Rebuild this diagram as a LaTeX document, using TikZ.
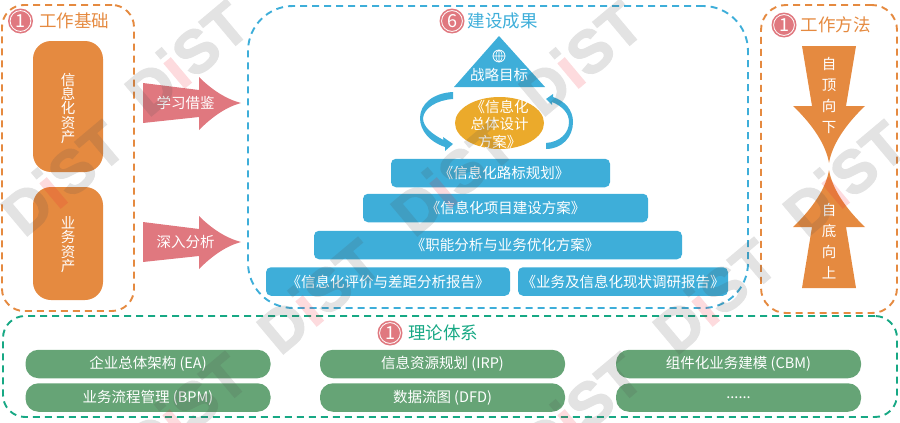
\documentclass[tikz,border=0pt]{standalone}
\usepackage{fontspec}
\usetikzlibrary{shapes.geometric}
\setmainfont{Noto Sans CJK SC}
\newfontfamily\wmfont[FakeBold=2.5]{Liberation Sans Bold}
\definecolor{dorange}{HTML}{E58A40}
\definecolor{dblue}{HTML}{3EAED9}
\definecolor{dgreen}{HTML}{17A884}
\definecolor{dpink}{HTML}{E0787F}
\definecolor{dgold}{HTML}{EBAA2B}
\definecolor{dpill}{HTML}{66A476}
\definecolor{wmgray}{HTML}{505050}
\definecolor{wmred}{HTML}{F02030}
\tikzset{
	dashbox/.style = {draw, line width=1.9, dash pattern=on 7 off 5, rectangle, inner sep=0},
	numcircle/.style = {circle, fill=dpink, minimum size=25, inner sep=0, text=white, font=\fontsize{18}{18}\selectfont,
		path picture={\draw[white, line width=.8] (path picture bounding box.center) circle (10.4);}},
	titletext/.style = {font=\fontsize{17.5}{18}\selectfont, inner sep=0},
	assetbox/.style = {fill=dorange, rectangle, rounded corners=18, minimum width=70, inner sep=0},
	planbox/.style = {fill=dblue, rectangle, rounded corners=5, minimum height=28.5, text=white, inner sep=0, font=\fontsize{14.5}{15}\selectfont},
	theorybox/.style = {fill=dpill, rectangle, rounded corners=13, minimum width=245, minimum height=28.5, text=white, inner sep=0, font=\fontsize{14.5}{15}\selectfont},
	whitetext/.style = {text=white, inner sep=0, align=center, font=\fontsize{14.5}{14.3}\selectfont},
	steptext/.style = {text=white, inner sep=0, align=center, font=\fontsize{14.5}{21}\selectfont},
	watermark/.style = {rotate=40, text=wmgray, inner sep=0, font=\wmfont\fontsize{60}{60}\selectfont}
}
\newcommand{\wmtext}{D\rlap{\hspace{.065em}\rule[.62em]{.15em}{.15em}}\textcolor{wmred}{\char"0131}ST}
\begin{document}
\begin{tikzpicture}[x=1pt,y=-1pt]
\useasboundingbox (0,0) rectangle (900,423);

% dashed frames
\node at (68,158)[dashbox,draw=dorange,minimum width=132,minimum height=306,rounded corners=22](basebox){};
\node at (498,157)[dashbox,draw=dblue,minimum width=500,minimum height=302,rounded corners=45](resultbox){};
\node at (829,159)[dashbox,draw=dorange,minimum width=136,minimum height=308,rounded corners=25](methodbox){};
\node at (450,366.5)[dashbox,draw=dgreen,minimum width=894,minimum height=101,rounded corners=22](theorybase){};

% titles
\node at (20.5,21)[numcircle](C1){1};
\node at (74,21)[titletext,text=dorange](T1){工作基础};
\node at (452,21)[numcircle](C2){6};
\node at (502.5,21)[titletext,text=dblue](T2){建设成果};
\node at (784,25)[numcircle](C3){1};
\node at (835.5,25)[titletext,text=dorange](T3){工作方法};
\node at (390,333)[numcircle](C4){1};
\node at (443,333)[titletext,text=dgreen](T4){理论体系};

% left column
\node at (68,106.5)[assetbox,minimum height=131](A1){};
\node at (68,243.5)[assetbox,minimum height=113](A2){};
\node at (68,108.5)[whitetext](A1text){信\\息\\化\\资\\产};
\node at (68,244.5)[whitetext](A2text){业\\务\\资\\产};

\foreach \y/\label/\name in {0/学习借鉴/L1,139/深入分析/L2}
{
	\fill[dpink] (143,83+\y) -- (199,90+\y) -- (199,77+\y) .. controls (212,90+\y) and (226,99+\y) .. (241,103+\y)
		.. controls (226,107+\y) and (212,117+\y) .. (199,130+\y) -- (199,117+\y) -- (143,123+\y) -- cycle;
	\node at (185.5,103+\y)[whitetext](\name){\label};
}

% right column
\fill[dorange] (802,46) -- (856,46) -- (846,106) -- (865,106) .. controls (845,125) and (832,145) .. (829,163)
	.. controls (826,145) and (813,125) .. (793,106) -- (812,106) -- cycle;
\fill[dorange] (802,288) -- (856,288) -- (846,227) -- (865,227) .. controls (845,208) and (832,188) .. (829,170)
	.. controls (826,188) and (813,208) .. (793,227) -- (812,227) -- cycle;
\node at (829,95)[steptext](M1){自\\顶\\向\\下};
\node at (829,241)[steptext](M2){自\\底\\向\\上};

% pyramid
\fill[dblue] (499,36) -- (545,87) -- (454,87) -- cycle;
\node at (499,56)[circle,draw=white,line width=.8,minimum size=12,inner sep=0,
	path picture={\draw[white,line width=.6] (path picture bounding box.west) -- (path picture bounding box.east)
		(path picture bounding box.north) -- (path picture bounding box.south)
		(path picture bounding box.center) ellipse (3 and 6);}](globe){};
\node at (499,74.5)[whitetext](goal){战略目标};
\node at (499.5,123)[ellipse,fill=dgold,minimum width=89,minimum height=52,inner sep=0](plan){};
\node at (499.5,124)[steptext,font=\fontsize{14.5}{17.5}\selectfont](plantext){《信息化\\总体设计\\方案》};

% curved arrows
\fill[dblue] (453,92) .. controls (433,93) and (420,104) .. (420,118) .. controls (420,131) and (430,142) .. (445,147)
	-- (445,151) -- (453,144) -- (443,137) -- (443.5,140) .. controls (432,134) and (423,127) .. (423,118)
	.. controls (424,108) and (437,100) .. (453,99) -- cycle;
\fill[dblue] (546,143) .. controls (560,142) and (569,133) .. (569,122) .. controls (569,113) and (562,106) .. (552,102)
	-- (552,105) -- (546,99) -- (553,94) -- (553,97) .. controls (565,101) and (573,110) .. (573,122)
	.. controls (573,137) and (562,149) .. (546,149) -- cycle;

% plan boxes
\node at (500.5,173)[planbox,minimum width=219](P1){\hspace*{7pt}《信息化路标规划》};
\node at (505.5,208)[planbox,minimum width=285](P2){《信息化项目建设方案》};
\node at (498,245)[planbox,minimum width=368](P3){\hspace*{14pt}《职能分析与业务优化方案》};
\node at (388,281.5)[planbox,minimum width=244](P4){《信息化评价与差距分析报告》};
\node at (623,281.5)[planbox,minimum width=210](P5){《业务及信息化现状调研报告》};

% theory boxes
\node at (148,364)[theorybox](E1){企业总体架构 (EA)};
\node at (148,397.5)[theorybox](E2){业务流程管理 (BPM)};
\node at (442.5,364)[theorybox](E3){信息资源规划 (IRP)};
\node at (442.5,397.5)[theorybox](E4){数据流图 (DFD)};
\node at (738.5,364)[theorybox](E5){组件化业务建模 (CBM)};
\node at (738.5,397.5)[theorybox](E6){......};

% watermarks
\clip (0,0) rectangle (900,423);
\foreach \x/\y [count=\i] in {186/57,580/57,62/177,452/177,844/177,318/295,714/295,185/409,580/409}
{
	\begin{scope}[transparency group,opacity=.16]
	\node at (\x,\y)[watermark](W\i){\wmtext};
	\end{scope}
}
\end{tikzpicture}
\end{document}
